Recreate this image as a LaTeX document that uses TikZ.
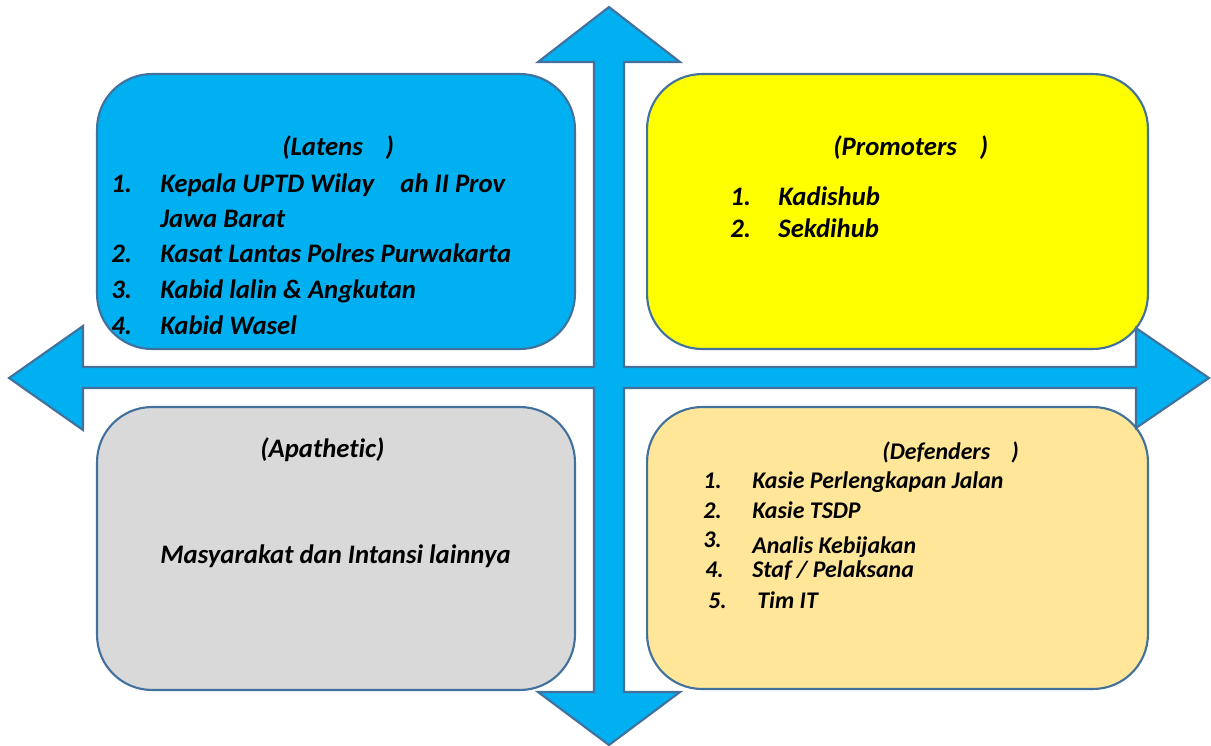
\documentclass[tikz,border=0pt]{standalone}
\usepackage{fontspec}
\setmainfont[Ligatures={NoCommon}]{Carlito}
\usetikzlibrary{positioning}

\definecolor{skyblue}{HTML}{00B0F0}
\definecolor{edgeblue}{HTML}{41719C}
\definecolor{sun}{HTML}{FFFF00}
\definecolor{greybox}{HTML}{D9D9D9}
\definecolor{beige}{HTML}{FFE699}

\tikzset{
	box/.style={draw=edgeblue, line width=1.2pt, rounded corners=1.1cm},
	txt/.style={anchor=base west, inner sep=0pt, font=\fontsize{15.2}{18}\selectfont\bfseries\itshape},
	small/.style={anchor=base west, inner sep=0pt, font=\fontsize{13.6}{16}\selectfont\bfseries\itshape}
}

\begin{document}
\begin{tikzpicture}[x=0.02cm, y=-0.02cm]
		\useasboundingbox (0,0) rectangle (1211,745);

		% the four quadrants
		\node[box, fill=skyblue, minimum width=9.56cm, minimum height=5.5cm]  (latens) at (336,211.5) {};
		\node[box, fill=sun, minimum width=10.02cm, minimum height=5.5cm]  (promoters) at (897.5,211.5) {};
		\node[box, fill=greybox, minimum width=9.56cm, minimum height=5.66cm]  (apathetic) at (336,548.5) {};
		\node[box, fill=beige, minimum width=10.02cm, minimum height=5.64cm]  (defenders) at (897.5,548) {};

		% the cross of arrows
		\draw[draw=edgeblue, line width=1.2pt, fill=skyblue, line join=miter]
			(609,7) -- (680,62) -- (624,62) -- (624,367) -- (1136,367) -- (1136,328)
			-- (1209,378) -- (1136,428) -- (1136,388) -- (624,388) -- (624,692)
			-- (680,692) -- (609,745) -- (538,692) -- (594,692) -- (594,388)
			-- (83,388) -- (83,430) -- (9,378) -- (83,326) -- (83,367)
			-- (594,367) -- (594,62) -- (538,62) -- cycle;

		% Latens
		\node[txt] (lt)  at (282,155) {(Latens\hspace{13pt})};
		\node[txt] (l1n) at (111,192) {1.};
		\node[txt] (l1)  at (160,192) {Kepala UPTD Wilay\hspace{15pt}ah II Prov};
		\node[txt] (l1b) at (160,227) {Jawa Barat};
		\node[txt] (l2n) at (111,262) {2.};
		\node[txt] (l2)  at (160,262) {Kasat Lantas Polres Purwakarta};
		\node[txt] (l3n) at (111,298) {3.};
		\node[txt] (l3)  at (160,298) {Kabid lalin \& Angkutan};
		\node[txt] (l4n) at (111,334) {4.};
		\node[txt] (l4)  at (160,334) {Kabid Wasel};

		% Promoters
		\node[txt] (pt)  at (833,155) {(Promoters\hspace{13pt})};
		\node[txt] (p1n) at (730,205) {1.};
		\node[txt] (p1)  at (778,205) {Kadishub};
		\node[txt] (p2n) at (730,237) {2.};
		\node[txt] (p2)  at (778,237) {Sekdihub};

		% Apathetic
		\node[txt] (at)  at (260,457) {(Apathetic)};
		\node[txt] (a1)  at (160,563) {Masyarakat dan Intansi lainnya};

		% Defenders
		\node[small] (dt)  at (882,459) {(Defenders\hspace{12pt})};
		\node[small] (d1n) at (703,488) {1.};
		\node[small] (d1)  at (752,488) {Kasie Perlengkapan Jalan};
		\node[small] (d2n) at (703,518) {2.};
		\node[small] (d2)  at (752,518) {Kasie TSDP};
		\node[small] (d3n) at (703,547) {3.};
		\node[small] (d3)  at (752,553) {Analis Kebijakan};
		\node[small] (d4n) at (705,577) {4.};
		\node[small] (d4)  at (752,577) {Staf / Pelaksana};
		\node[small] (d5n) at (708,608) {5.};
		\node[small] (d5)  at (757,608) {Tim IT};

	\end{tikzpicture}
\end{document}
